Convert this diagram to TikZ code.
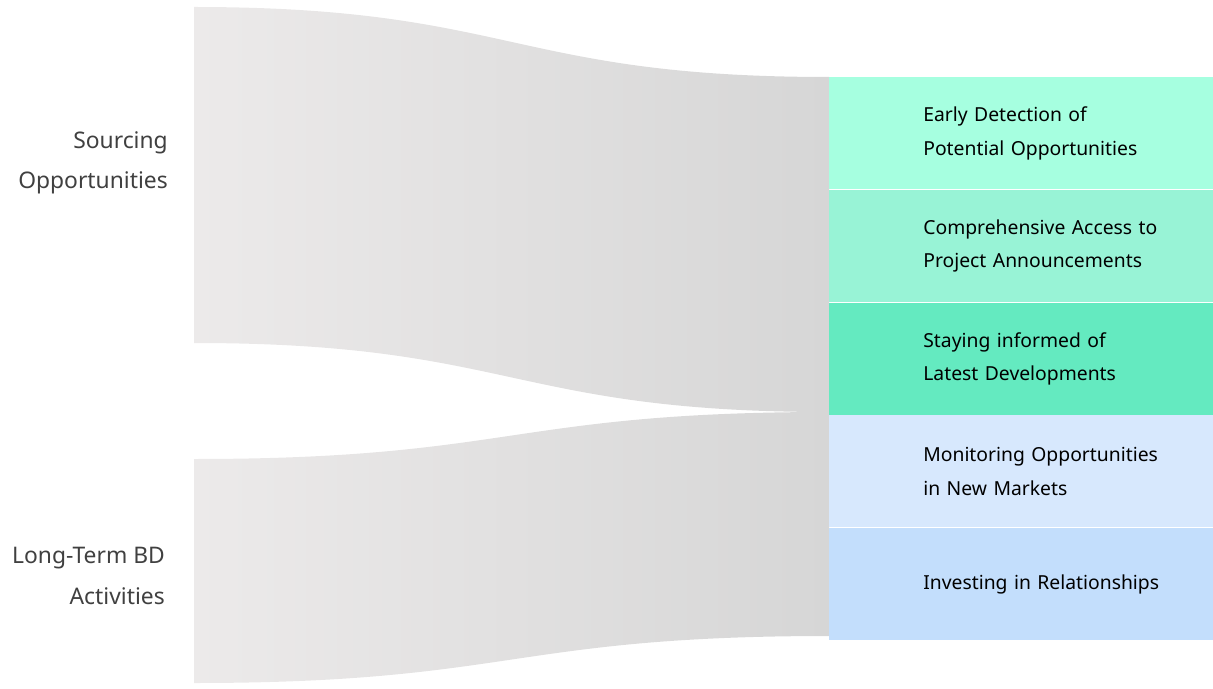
\documentclass[tikz,border=0pt]{standalone}
\usepackage{fontspec}
\setmainfont{Noto Sans}
\usetikzlibrary{positioning}
\definecolor{flowlight}{RGB}{236,234,234}
\definecolor{flowdark}{RGB}{214,214,214}
\definecolor{mintA}{RGB}{166,255,224}
\definecolor{mintB}{RGB}{152,243,214}
\definecolor{mintC}{RGB}{100,234,192}
\definecolor{blueA}{RGB}{215,232,253}
\definecolor{blueB}{RGB}{195,222,252}
\definecolor{labelgray}{RGB}{64,64,64}
\tikzset{
	% target boxes on the right
	target/.style = {rectangle, draw=none, anchor=north west,
	minimum width=7.68cm, minimum height=2.24cm,
	text width=6.2cm, align=left, inner sep=0pt,
	font=\fontsize{11}{19}\selectfont},
	% source labels on the left
	source/.style = {anchor=east, align=right, text=labelgray,
	font=\fontsize{13}{23}\selectfont\bfseries},
	flow/.style = {left color=flowlight, right color=flowdark, draw=none},
}
\begin{document}
\begin{tikzpicture}[x=0.02cm, y=-0.02cm]
	\useasboundingbox (0,0) rectangle (1213,689);
		% flows
		\path[flow] (194,7) .. controls (512,7) and (512,77) .. (829,77)
			-- (829,412) .. controls (512,412) and (512,343) .. (194,343) -- cycle;
		\path[flow] (194,459) .. controls (512,459) and (512,412) .. (829,412)
			-- (829,636) .. controls (512,636) and (512,683) .. (194,683) -- cycle;
		% right blocks
		\node (early)[target, fill=mintA] at (829,77) {\hspace*{1.14cm}Early Detection of\\\hspace*{1.14cm}Potential Opportunities};
		\node (access)[target, fill=mintB, below=0cm of early] {\hspace*{1.14cm}Comprehensive Access to\\\hspace*{1.14cm}Project Announcements};
		\node (informed)[target, fill=mintC, below=0cm of access] {\hspace*{1.14cm}Staying informed of\\\hspace*{1.14cm}Latest Developments};
		\node (markets)[target, fill=blueA, below=0cm of informed] {\hspace*{1.14cm}Monitoring Opportunities\\\hspace*{1.14cm}in New Markets};
		\node (relations)[target, fill=blueB, below=0cm of markets] {\hspace*{1.14cm}Investing in Relationships};
		% left labels
		\node (sourcing)[source] at (174,163) {Sourcing\\Opportunities};
		\node (longterm)[source] at (171,576) {Long-Term BD\\Activities};
	\end{tikzpicture}
\end{document}
